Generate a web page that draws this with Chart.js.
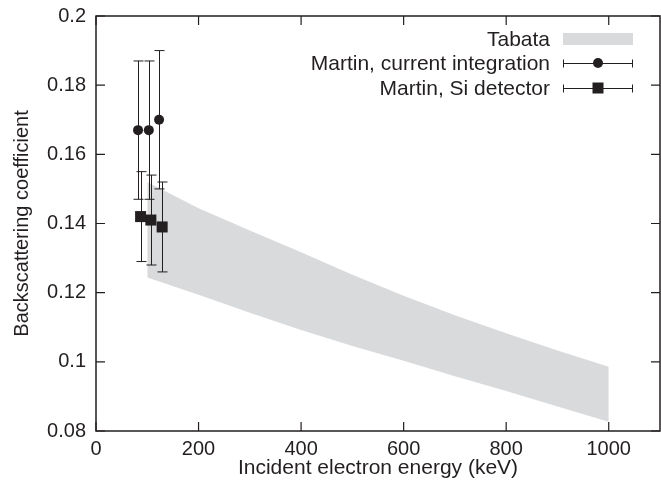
<!DOCTYPE html>
<html>
<head>
<meta charset="utf-8">
<script src="https://cdn.jsdelivr.net/npm/chart.js@4.4.0/dist/chart.umd.min.js"></script>
<style>
  html, body { margin: 0; padding: 0; background: #fff; }
  #wrap { width: 661px; height: 489px; }
</style>
</head>
<body>
<div id="wrap"><canvas id="chart" width="661" height="489"></canvas></div>
<script>
// Tabata band (upper / lower edge)
const tabataEnergy = [100, 200, 300, 400, 500, 600, 700, 800, 900, 1000];
const tabataUpper = [0.152, 0.1444, 0.138, 0.1317, 0.1252, 0.1191, 0.1135, 0.1083, 0.1033, 0.0986];
const tabataLower = [0.1244, 0.1194, 0.1142, 0.1092, 0.1046, 0.1003, 0.0958, 0.0916, 0.0871, 0.0827];

// Martin, current integration
const ciEnergy = [82, 103, 123];
const ciValue = [0.167, 0.167, 0.170];
const ciLow = [0.147, 0.147, 0.150];
const ciHigh = [0.187, 0.187, 0.190];

// Martin, Si detector
const siEnergy = [87, 107, 129];
const siValue = [0.142, 0.141, 0.139];
const siLow = [0.129, 0.128, 0.126];
const siHigh = [0.155, 0.154, 0.152];

const legendLabels = ['Tabata', 'Martin, current integration', 'Martin, Si detector'];

const ink = '#231f20';
const bandColor = '#d9dadc';
const FONT = 'Liberation Sans, Arial, sans-serif';

const pts = (xs, ys) => xs.map((x, i) => ({ x: x, y: ys[i] }));

const errorBars = {
    id: 'errorBars',
    afterDatasetsDraw(chart) {
        const ctx = chart.ctx;
        const xs = chart.scales.x, ys = chart.scales.y;
        const sets = [[ciEnergy, ciLow, ciHigh], [siEnergy, siLow, siHigh]];
        ctx.save();
        ctx.strokeStyle = ink;
        ctx.lineWidth = 1;
        sets.forEach(([e, lo, hi]) => {
            e.forEach((v, i) => {
                const px = Math.round(xs.getPixelForValue(v)) + 0.5;
                const y1 = ys.getPixelForValue(lo[i]);
                const y2 = ys.getPixelForValue(hi[i]);
                ctx.beginPath();
                ctx.moveTo(px, y1); ctx.lineTo(px, y2);
                ctx.moveTo(px - 5, y1); ctx.lineTo(px + 5, y1);
                ctx.moveTo(px - 5, y2); ctx.lineTo(px + 5, y2);
                ctx.stroke();
            });
        });
        ctx.restore();
    }
};

const frame = {
    id: 'frame',
    afterDraw(chart) {
        const ctx = chart.ctx;
        const a = chart.chartArea;
        const xs = chart.scales.x, ys = chart.scales.y;
        ctx.save();
        ctx.strokeStyle = ink;
        ctx.lineWidth = 1.5;
        ctx.strokeRect(a.left, a.top, a.right - a.left, a.bottom - a.top);
        ctx.lineWidth = 1.2;
        ctx.beginPath();
        xs.ticks.forEach(t => {
            const px = xs.getPixelForValue(t.value);
            ctx.moveTo(px, a.bottom); ctx.lineTo(px, a.bottom - 9);
            ctx.moveTo(px, a.top); ctx.lineTo(px, a.top + 9);
        });
        ys.ticks.forEach(t => {
            const py = ys.getPixelForValue(t.value);
            ctx.moveTo(a.left, py); ctx.lineTo(a.left + 9, py);
            ctx.moveTo(a.right, py); ctx.lineTo(a.right - 9, py);
        });
        ctx.stroke();

        // legend
        const textX = 550, s0 = 563, s1 = 633, sm = 598;
        const rows = [39, 63, 88];
        ctx.font = '21px ' + FONT;
        ctx.fillStyle = ink;
        ctx.textAlign = 'right';
        ctx.textBaseline = 'middle';
        legendLabels.forEach((l, i) => ctx.fillText(l, textX, rows[i] + 1));
        ctx.fillStyle = bandColor;
        ctx.fillRect(s0, rows[0] - 6, s1 - s0, 12);
        ctx.lineWidth = 1;
        [rows[1], rows[2]].forEach(y => {
            const yy = Math.round(y) + 0.5;
            ctx.beginPath();
            ctx.moveTo(s0, yy); ctx.lineTo(s1, yy);
            ctx.moveTo(s0 + 0.5, yy - 4); ctx.lineTo(s0 + 0.5, yy + 4);
            ctx.moveTo(s1 - 0.5, yy - 4); ctx.lineTo(s1 - 0.5, yy + 4);
            ctx.stroke();
        });
        ctx.fillStyle = ink;
        ctx.beginPath();
        ctx.arc(sm, rows[1], 5, 0, Math.PI * 2);
        ctx.fill();
        ctx.fillRect(sm - 5.5, rows[2] - 5.5, 11, 11);
        ctx.restore();
    }
};

new Chart(document.getElementById('chart'), {
    type: 'scatter',
    data: {
        datasets: [
            {
                label: 'Tabata upper',
                data: pts(tabataEnergy, tabataUpper),
                showLine: true,
                borderWidth: 0,
                borderColor: bandColor,
                backgroundColor: bandColor,
                pointRadius: 0,
                fill: '+1',
                tension: 0,
                order: 10
            },
            {
                label: 'Tabata lower',
                data: pts(tabataEnergy, tabataLower),
                showLine: true,
                borderWidth: 0,
                borderColor: bandColor,
                pointRadius: 0,
                fill: false,
                order: 9
            },
            {
                label: legendLabels[1],
                data: pts(ciEnergy, ciValue),
                pointStyle: 'circle',
                pointRadius: 5,
                backgroundColor: ink,
                borderColor: ink,
                borderWidth: 0,
                order: 1
            },
            {
                label: legendLabels[2],
                data: pts(siEnergy, siValue),
                pointStyle: 'rect',
                pointRadius: 7.8,
                backgroundColor: ink,
                borderColor: ink,
                borderWidth: 0,
                order: 0
            }
        ]
    },
    options: {
        responsive: false,
        animation: false,
        layout: { autoPadding: false, padding: { top: 16, right: 1, left: 0, bottom: 0 } },
        plugins: {
            legend: { display: false },
            tooltip: { enabled: false }
        },
        scales: {
            x: {
                type: 'linear',
                min: 0,
                max: 1100,
                afterFit: s => {
                    s.height = 58;
                    s.paddingLeft = 0;
                    s.paddingRight = 0;
                },
                ticks: {
                    stepSize: 200,
                    includeBounds: false,
                    padding: 6,
                    color: ink,
                    font: { family: FONT, size: 20 },
                    maxRotation: 0,
                    callback: v => String(v)
                },
                grid: { display: false, drawTicks: false },
                border: { display: false },
                title: {
                    display: true,
                    text: 'Incident electron energy (keV)',
                    color: ink,
                    font: { family: FONT, size: 21 },
                    padding: { top: 0, bottom: 8 }
                }
            },
            y: {
                type: 'linear',
                min: 0.08,
                max: 0.2,
                afterFit: s => {
                    s.width = 96;
                    s.paddingTop = 0;
                    s.paddingBottom = 0;
                },
                ticks: {
                    stepSize: 0.02,
                    padding: 10,
                    color: ink,
                    font: { family: FONT, size: 20 },
                    callback: v => String(+v.toFixed(2))
                },
                grid: { display: false, drawTicks: false },
                border: { display: false },
                title: {
                    display: true,
                    text: 'Backscattering coefficient',
                    color: ink,
                    font: { family: FONT, size: 20 },
                    padding: { top: 10, bottom: 0 }
                }
            }
        }
    },
    plugins: [errorBars, frame]
});
</script>
</body>
</html>
